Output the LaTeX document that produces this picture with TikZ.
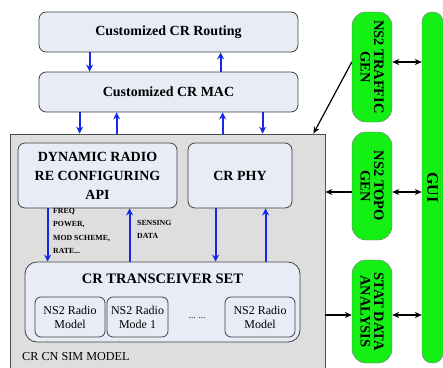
\documentclass[tikz,border=0pt]{standalone}
\usepackage{fontspec}
\setmainfont{Liberation Serif}
\usetikzlibrary{arrows.meta}

\definecolor{laybg}{RGB}{232,236,247}
\definecolor{simgrey}{RGB}{222,222,222}
\definecolor{toolgreen}{RGB}{20,240,20}
\definecolor{arrowblue}{RGB}{20,40,230}

\begin{document}
\begin{tikzpicture}[x=1pt, y=-1pt,
	layer/.style={draw=black!75, fill=laybg, rounded corners=7pt, line width=0.8pt, inner sep=0pt, align=center, font=\bfseries\fontsize{14}{19}\selectfont},
	simbox/.style={draw=black!70, fill=simgrey, line width=0.8pt, inner sep=0pt},
	radio/.style={draw=black!75, fill=laybg, rounded corners=6pt, line width=0.8pt, inner sep=0pt, align=center, minimum height=40, font=\fontsize{12}{14}\selectfont},
	tool/.style={draw=black!55, fill=toolgreen, rounded corners=14pt, rotate=-90, minimum height=40, inner sep=0pt, align=center, font=\bfseries\fontsize{14.5}{13.5}\selectfont},
	note/.style={inner sep=0pt, align=left, font=\bfseries\fontsize{7.8}{13.4}\selectfont},
	bluearrow/.style={draw=arrowblue, line width=2pt, -{Stealth[length=7pt,width=7pt]}},
	blackarrow/.style={line width=1.2pt, -{Stealth[length=7pt,width=6pt]}},
	twoway/.style={line width=1.2pt, {Stealth[length=7pt,width=6pt]}-{Stealth[length=7pt,width=6pt]}}
	]

		\useasboundingbox (0,0) rectangle (443,367);

		% protocol stack
		\node[layer, minimum width=259, minimum height=40] (routing) at (168.5,32) {Customized CR Routing};
		\node[layer, minimum width=259, minimum height=40] (mac) at (168.5,92) {Customized CR MAC};
		\node[simbox, minimum width=315, minimum height=250] (sim) at (167.5,259) {};
		\node[layer, minimum width=159, minimum height=65] (api) at (97.5,175.5) {DYNAMIC RADIO\\RE CONFIGURING\\API};
		\node[layer, minimum width=104, minimum height=65] (phy) at (240,175.5) {CR PHY};
		\node[layer, minimum width=275, minimum height=80, rounded corners=12pt] (trx) at (162.5,302) {};
		\node[inner sep=0pt, font=\bfseries\fontsize{14.5}{16}\selectfont] (trxtitle) at (162.5,279) {CR TRANSCEIVER SET};
		\node[radio, minimum width=70] (radio1) at (70,317) {NS2 Radio\\Model};
		\node[radio, minimum width=61] (radio2) at (137.5,317) {NS2 Radio\\Mode 1};
		\node[inner sep=0pt, font=\fontsize{9}{10}\selectfont] (dots) at (197,318) {... ...};
		\node[radio, minimum width=70] (radio3) at (260,317) {NS2 Radio\\Model};
		\node[inner sep=0pt, anchor=west, font=\fontsize{12.2}{14}\selectfont] (simname) at (22,357) {CR CN SIM MODEL};
		\node[note, anchor=north west] (ctrl) at (53,208) {FREQ\\POWER,\\MOD SCHEME,\\RATE...};
		\node[note, anchor=north west] (sense) at (137,220) {SENSING\\DATA};

		% ns2 tools (rotated: south = left side, north = right side)
		\node[tool, minimum width=110] (traffic) at (372,67) {NS2 TRAFFIC\\GEN};
		\node[tool, minimum width=108] (topo) at (372,186) {NS2 TOPO\\GEN};
		\node[tool, minimum width=103] (stat) at (372,311.5) {STAT DATA\\ANALYSIS};
		\node[tool, minimum width=351, minimum height=21, rounded corners=10pt, font=\bfseries\fontsize{16}{18}\selectfont] (gui) at (432.5,187.5) {GUI};

		\draw[bluearrow] ([xshift=51pt]routing.south west) -- ([xshift=51pt]mac.north west);
		\draw[bluearrow] ([xshift=182pt]mac.north west) -- ([xshift=182pt]routing.south west);
		\draw[bluearrow] ([xshift=41pt]mac.south west) -- ([xshift=41pt]mac.south west |- sim.north);
		\draw[bluearrow] ([xshift=78pt]mac.south west |- sim.north) -- ([xshift=78pt]mac.south west);
		\draw[bluearrow] ([xshift=184pt]mac.south west |- sim.north) -- ([xshift=184pt]mac.south west);
		\draw[bluearrow] ([xshift=224pt]mac.south west) -- ([xshift=224pt]mac.south west |- sim.north);
		\draw[bluearrow] ([xshift=30pt]api.south west) -- ([xshift=30pt]api.south west |- trx.north);
		\draw[bluearrow] ([xshift=112pt]api.south west |- trx.north) -- ([xshift=112pt]api.south west);
		\draw[bluearrow] ([xshift=28pt]phy.south west) -- ([xshift=28pt]phy.south west |- trx.north);
		\draw[bluearrow] ([xshift=78pt]phy.south west |- trx.north) -- ([xshift=78pt]phy.south west);

		\draw[blackarrow] ([yshift=5pt]traffic.south) -- ([xshift=-12pt]sim.north east);
		\draw[blackarrow] ([yshift=-6pt]topo.south) -- ([yshift=-6pt]topo.south -| sim.east);
		\draw[blackarrow] ([yshift=-3.5pt]stat.south -| sim.east) -- ([yshift=-3.5pt]stat.south);
		\draw[twoway] ([yshift=5pt]traffic.north) -- ([yshift=5pt]traffic.north -| gui.south);
		\draw[twoway] ([yshift=-6pt]topo.north) -- ([yshift=-6pt]topo.north -| gui.south);
		\draw[twoway] ([yshift=-3.5pt]stat.north) -- ([yshift=-3.5pt]stat.north -| gui.south);
	\end{tikzpicture}
\end{document}
